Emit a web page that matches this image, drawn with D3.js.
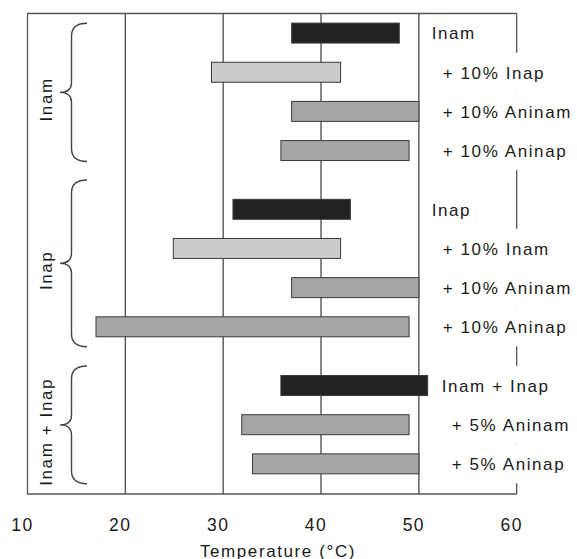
<!DOCTYPE html>
<html>
<head>
<meta charset="utf-8">
<script src="https://cdn.jsdelivr.net/npm/d3@7"></script>
<style>
  html, body { margin: 0; padding: 0; background: #fff; }
  svg { display: block; }
  text { font-family: "Liberation Sans", Arial, sans-serif; fill: #1a1a1a; }
</style>
</head>
<body>
<div id="chart"></div>
<script>
// ---- data ----
const barLabels = ["Inam", "+ 10% Inap", "+ 10% Aninam", "+ 10% Aninap",
                   "Inap", "+ 10% Inam", "+ 10% Aninam", "+ 10% Aninap",
                   "Inam + Inap", "+ 5% Aninam", "+ 5% Aninap"];
const barSlots  = [0, 1, 2, 3, 4.5, 5.5, 6.5, 7.5, 9, 10, 11];
const barStart  = [37.0, 28.8, 37.0, 35.9, 31.0, 24.9, 37.0, 17.0, 35.9, 31.9, 33.0];
const barEnd    = [48.0, 42.0, 50.0, 49.0, 43.0, 42.0, 50.0, 49.0, 50.9, 49.0, 50.0];
const barKind   = ["pure", "mix", "ani", "ani", "pure", "mix", "ani", "ani", "pure", "ani", "ani"];
const groupNames = ["Inam", "Inap", "Inam + Inap"];
const braceFrom  = [-0.25, 3.75, 8.5];
const braceTo    = [3.28, 8.01, 11.51];
const xTicks     = [10, 20, 30, 40, 50, 60];
const gridValues = [20, 30, 40, 50];
const xTitle     = "Temperature (°C)";

// ---- layout / style ----
const W = 577, H = 559;
const kindColor = { pure: "#222222", mix: "#cbcbcb", ani: "#a6a6a6" };
const lineColor = "#555";

const svg = d3.select("#chart").append("svg").attr("width", W).attr("height", H);

const x = d3.scaleLinear().domain([10, 60]).range([27.5, 516.7]);
const y = d3.scaleLinear().domain([-0.5, 11.77]).range([13.5, 494]);
const step = y(1) - y(0);
const barH = step * 0.51;

// grid lines (behind bars)
svg.append("g").selectAll("line").data(gridValues).join("line")
  .attr("x1", d => x(d)).attr("x2", d => x(d))
  .attr("y1", y.range()[0]).attr("y2", y.range()[1])
  .attr("stroke", lineColor).attr("stroke-width", 1.4);

// frame right edge (partly covered by label backgrounds)
svg.append("line")
  .attr("x1", x(60)).attr("x2", x(60))
  .attr("y1", y.range()[0]).attr("y2", y.range()[1])
  .attr("stroke", lineColor).attr("stroke-width", 1.3);

// bars
const bars = barSlots.map((s, i) => ({ slot: s, a: barStart[i], b: barEnd[i], kind: barKind[i], label: barLabels[i] }));
svg.append("g").selectAll("rect").data(bars).join("rect")
  .attr("x", d => x(d.a))
  .attr("width", d => x(d.b) - x(d.a))
  .attr("y", d => y(d.slot) - barH / 2)
  .attr("height", barH)
  .attr("fill", d => kindColor[d.kind])
  .attr("stroke", "#3a3a3a").attr("stroke-width", 1);

// right labels with white backgrounds
function labelX(lbl) {
  if (lbl.startsWith("+ 5%")) return 451.7;
  if (lbl.startsWith("+")) return 442.7;
  if (lbl.indexOf("+") > 0) return 441.7;
  return 431.7;
}
const lg = svg.append("g");
bars.forEach(d => {
  const g = lg.append("g");
  const bg = g.append("rect").attr("fill", "#fff");
  const t = g.append("text")
    .attr("x", labelX(d.label))
    .attr("y", y(d.slot) + 6.3)
    .attr("font-size", 17)
    .attr("letter-spacing", 1.6)
    .text(d.label);
  const len = t.node().getComputedTextLength();
  bg.attr("x", labelX(d.label) - 2).attr("width", len + 4)
    .attr("y", y(d.slot) - step / 2).attr("height", step);
});

// frame top, left, bottom
svg.append("path")
  .attr("d", `M${x(60)},${y.range()[0]} H${x(10)} V${y.range()[1]} H${x(60)}`)
  .attr("fill", "none").attr("stroke", lineColor).attr("stroke-width", 1.3);

// braces and group labels
const tipX = x(10) + 32.5, spineX = x(10) + 44, endX = x(10) + 59.5;
groupNames.forEach((name, i) => {
  const y0 = y(braceFrom[i]), y1 = y(braceTo[i]), ym = (y0 + y1) / 2;
  const c = 13, t = 10;
  const p = d3.path();
  p.moveTo(endX, y0);
  p.quadraticCurveTo(spineX, y0, spineX, y0 + c);
  p.lineTo(spineX, ym - t);
  p.quadraticCurveTo(spineX, ym, tipX, ym);
  p.quadraticCurveTo(spineX, ym, spineX, ym + t);
  p.lineTo(spineX, y1 - c);
  p.quadraticCurveTo(spineX, y1, endX, y1);
  svg.append("path").attr("d", p.toString())
    .attr("fill", "none").attr("stroke", "#444").attr("stroke-width", 1.4);
  svg.append("text")
    .attr("transform", `translate(${x(10) + 24},${ym + 7}) rotate(-90)`)
    .attr("text-anchor", "middle")
    .attr("font-size", 17)
    .attr("letter-spacing", 1.6)
    .text(name);
});

// x axis tick labels
svg.append("g").selectAll("text").data(xTicks).join("text")
  .attr("x", d => x(d) - 5)
  .attr("y", 531)
  .attr("text-anchor", "middle")
  .attr("font-size", 17.5)
  .attr("letter-spacing", 1.5)
  .text(d => d);

// axis title
svg.append("text")
  .attr("x", x(35.6))
  .attr("y", 556.5)
  .attr("text-anchor", "middle")
  .attr("font-size", 17)
  .attr("letter-spacing", 1.6)
  .text(xTitle);
</script>
</body>
</html>
